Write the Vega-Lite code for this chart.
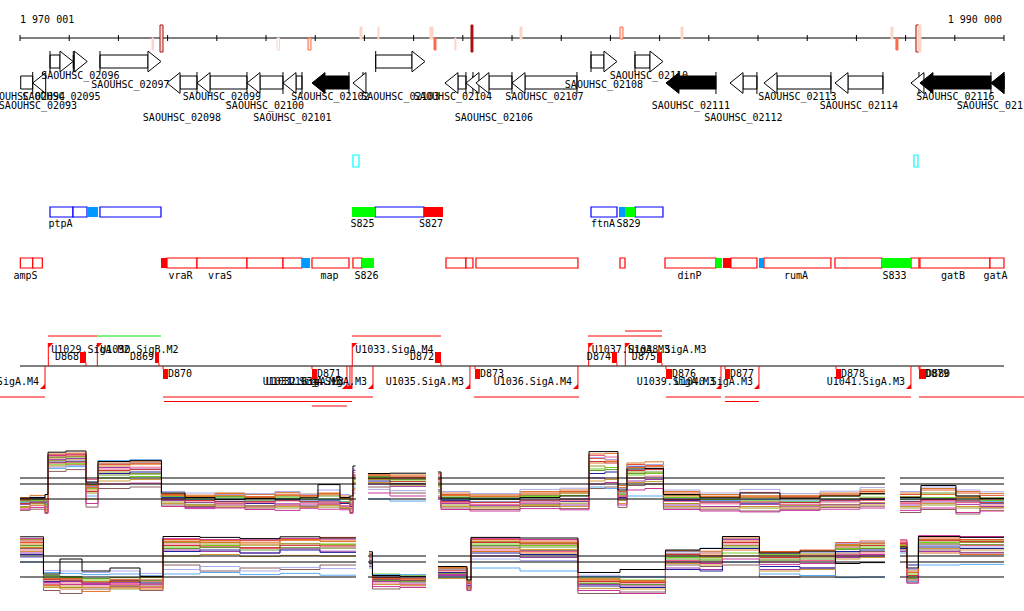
{
  "$schema": "https://vega.github.io/schema/vega-lite/v6.json",
  "padding": 0,
  "spacing": 0,
  "background": "white",
  "config": {"view": {"stroke": null}, "text": {"font": "DejaVu Sans Mono", "fontSize": 10, "color": "black"}, "concat": {"spacing": 0}},
  "resolve": {"scale": {"color": "independent", "fill": "independent", "stroke": "independent", "shape": "independent"}},
  "datasets": {
    "ruler": [{"s": 1970001, "e": 1990000}],
    "ticks": [{"p":1970001},{"p":1971001},{"p":1972001},{"p":1973001},{"p":1974001},{"p":1975001},{"p":1976001},{"p":1977001},{"p":1978001},{"p":1979001},{"p":1980001},{"p":1981001},{"p":1982001},{"p":1983001},{"p":1984001},{"p":1985001},{"p":1986001},{"p":1987001},{"p":1988001},{"p":1989001},{"p":1990000}],
    "rl": [{"p": 1970001, "t": "1 970 001", "side": "l"}, {"p": 1990000, "t": "1 990 000", "side": "r"}],
    "peaks": [
      {"s":1972683,"e":1972714,"st":"-","c":"lt"},
      {"s":1972846,"e":1972907,"st":"b","c":"dko"},
      {"s":1975224,"e":1975275,"st":"-","c":"lto"},
      {"s":1975854,"e":1975915,"st":"-","c":"oro"},
      {"s":1976911,"e":1976951,"st":"+","c":"lt"},
      {"s":1977277,"e":1977297,"st":"+","c":"lt"},
      {"s":1978333,"e":1978394,"st":"+","c":"lt"},
      {"s":1978415,"e":1978455,"st":"-","c":"or"},
      {"s":1978841,"e":1978862,"st":"-","c":"lt"},
      {"s":1979167,"e":1979207,"st":"b","c":"dk"},
      {"s":1980163,"e":1980203,"st":"+","c":"lt"},
      {"s":1982195,"e":1982256,"st":"+","c":"oro"},
      {"s":1983435,"e":1983475,"st":"+","c":"lt"},
      {"s":1987703,"e":1987743,"st":"+","c":"lt"},
      {"s":1987804,"e":1987845,"st":"-","c":"or"},
      {"s":1988211,"e":1988272,"st":"b","c":"dko"},
      {"s":1988262,"e":1988312,"st":"b","c":"lt"}
    ],
    "genes": [
      {"id":"SAOUHSC_02093","s":1970015,"e":1970259,"st":"-","k":"std","lv":3,"mid":1970366,"h":0},
      {"id":"SAOUHSC_02094","s":1970259,"e":1970462,"st":"-","k":"std","lv":2,"mid":1970122,"h":1},
      {"id":"SAOUHSC_02095","s":1970610,"e":1971078,"st":"+","k":"std","lv":2,"mid":1970844,"h":1},
      {"id":"SAOUHSC_02096","s":1971084,"e":1971368,"st":"+","k":"std","lv":0,"mid":1971226,"h":1},
      {"id":"SAOUHSC_02097","s":1971626,"e":1972866,"st":"+","k":"std","lv":1,"mid":1972246,"h":1},
      {"id":"SAOUHSC_02098","s":1972988,"e":1973598,"st":"-","k":"std","lv":4,"mid":1973293,"h":1},
      {"id":"SAOUHSC_02099","s":1973598,"e":1974614,"st":"-","k":"std","lv":2,"mid":1974106,"h":1},
      {"id":"SAOUHSC_02100","s":1974614,"e":1975346,"st":"-","k":"std","lv":3,"mid":1974980,"h":1},
      {"id":"SAOUHSC_02101","s":1975346,"e":1975732,"st":"-","k":"std","lv":4,"mid":1975539,"h":1},
      {"id":"SAOUHSC_02102","s":1975935,"e":1976687,"st":"-","k":"hl","lv":2,"mid":1976311,"h":1},
      {"id":"SAOUHSC_02102A","s":1976768,"e":1976972,"st":"-","k":"std","lv":-1,"mid":1976870,"h":1},
      {"id":"SAOUHSC_02103","s":1977230,"e":1978232,"st":"+","k":"std","lv":2,"mid":1977732,"h":1},
      {"id":"SAOUHSC_02104","s":1978638,"e":1979065,"st":"-","k":"std","lv":2,"mid":1978801,"h":1},
      {"id":"SAOUHSC_02105","s":1979065,"e":1979207,"st":"-","k":"std","lv":-1,"mid":1979136,"h":1},
      {"id":"SAOUHSC_02106","s":1979268,"e":1980000,"st":"-","k":"std","lv":4,"mid":1979634,"h":1},
      {"id":"SAOUHSC_02107","s":1980000,"e":1981321,"st":"-","k":"std","lv":2,"mid":1980660,"h":1},
      {"id":"SAOUHSC_02108","s":1981606,"e":1982134,"st":"+","k":"std","lv":1,"mid":1981870,"h":1},
      {"id":"SAOUHSC_02110","s":1982500,"e":1983069,"st":"+","k":"std","lv":0,"mid":1982784,"h":1},
      {"id":"SAOUHSC_02111","s":1983130,"e":1984146,"st":"-","k":"hl","lv":3,"mid":1983638,"h":1},
      {"id":"SAOUHSC_02112","s":1984431,"e":1984979,"st":"-","k":"std","lv":4,"mid":1984705,"h":1},
      {"id":"SAOUHSC_02113","s":1985122,"e":1986483,"st":"-","k":"std","lv":2,"mid":1985802,"h":1},
      {"id":"SAOUHSC_02114","s":1986565,"e":1987540,"st":"-","k":"std","lv":3,"mid":1987052,"h":1},
      {"id":"SAOUHSC_02115","s":1988109,"e":1988272,"st":"-","k":"std","lv":-1,"mid":1988190,"h":1},
      {"id":"SAOUHSC_02116","s":1988292,"e":1989735,"st":"-","k":"hl","lv":2,"mid":1989014,"h":1},
      {"id":"SAOUHSC_02117","s":1989735,"e":1990000,"st":"-","k":"hl","lv":3,"mid":1989837,"h":1}
    ],
    "feat": [
      {"s":1970610,"e":1971078,"tr":"b","k":"o"},
      {"s":1971078,"e":1971362,"tr":"b","k":"o"},
      {"s":1971383,"e":1971586,"tr":"b","k":"c"},
      {"s":1971626,"e":1972866,"tr":"b","k":"o"},
      {"s":1976748,"e":1977216,"tr":"b","k":"g"},
      {"s":1977216,"e":1978211,"tr":"b","k":"o"},
      {"s":1978211,"e":1978598,"tr":"b","k":"r"},
      {"s":1981606,"e":1982134,"tr":"b","k":"o"},
      {"s":1982175,"e":1982297,"tr":"b","k":"c"},
      {"s":1982297,"e":1982500,"tr":"b","k":"g"},
      {"s":1982500,"e":1983069,"tr":"b","k":"o"},
      {"s":1970007,"e":1970259,"tr":"r","k":"o"},
      {"s":1970259,"e":1970454,"tr":"r","k":"o"},
      {"s":1972866,"e":1972988,"tr":"r","k":"r"},
      {"s":1972988,"e":1973598,"tr":"r","k":"o"},
      {"s":1973598,"e":1974614,"tr":"r","k":"o"},
      {"s":1974614,"e":1975346,"tr":"r","k":"o"},
      {"s":1975346,"e":1975732,"tr":"r","k":"o"},
      {"s":1975732,"e":1975894,"tr":"r","k":"c"},
      {"s":1975935,"e":1976687,"tr":"r","k":"o"},
      {"s":1976768,"e":1976951,"tr":"r","k":"o"},
      {"s":1976951,"e":1977195,"tr":"r","k":"g"},
      {"s":1978659,"e":1979065,"tr":"r","k":"o"},
      {"s":1979065,"e":1979207,"tr":"r","k":"o"},
      {"s":1979268,"e":1981341,"tr":"r","k":"o"},
      {"s":1982195,"e":1982297,"tr":"r","k":"o"},
      {"s":1983110,"e":1984146,"tr":"r","k":"o"},
      {"s":1984146,"e":1984268,"tr":"r","k":"g"},
      {"s":1984288,"e":1984451,"tr":"r","k":"r"},
      {"s":1984451,"e":1984979,"tr":"r","k":"o"},
      {"s":1985020,"e":1985122,"tr":"r","k":"c"},
      {"s":1985122,"e":1986483,"tr":"r","k":"o"},
      {"s":1986565,"e":1987520,"tr":"r","k":"o"},
      {"s":1987520,"e":1988109,"tr":"r","k":"g"},
      {"s":1988109,"e":1988272,"tr":"r","k":"o"},
      {"s":1988292,"e":1989715,"tr":"r","k":"o"},
      {"s":1989715,"e":1990000,"tr":"r","k":"o"},
      {"s":1976768,"e":1976890,"tr":"c","k":"o"},
      {"s":1988170,"e":1988251,"tr":"c","k":"o"}
    ],
    "flab": [
      {"x":1970824,"t":"ptpA","tr":"b"},{"x":1976962,"t":"S825","tr":"b"},{"x":1978354,"t":"S827","tr":"b"},{"x":1981849,"t":"ftnA","tr":"b"},{"x":1982368,"t":"S829","tr":"b"},
      {"x":1970112,"t":"ampS","tr":"r"},{"x":1973263,"t":"vraR","tr":"r"},{"x":1974065,"t":"vraS","tr":"r"},{"x":1976291,"t":"map","tr":"r"},{"x":1977043,"t":"S826","tr":"r"},{"x":1983607,"t":"dinP","tr":"r"},{"x":1985772,"t":"rumA","tr":"r"},{"x":1987774,"t":"S833","tr":"r"},{"x":1988963,"t":"gatB","tr":"r"},{"x":1989827,"t":"gatA","tr":"r"}
    ],
    "tus": [
      {"s":1970570,"e":1971565,"st":"+","lv":0,"sg":"A"},
      {"s":1971565,"e":1972866,"st":"+","lv":0,"sg":"B"},
      {"s":1976748,"e":1978557,"st":"+","lv":0,"sg":"A"},
      {"s":1981545,"e":1983049,"st":"+","lv":0,"sg":"A"},
      {"s":1982297,"e":1983049,"st":"+","lv":1,"sg":"A"},
      {"s":1969594,"e":1970509,"st":"-","lv":0,"sg":"A"},
      {"s":1972907,"e":1977175,"st":"-","lv":0,"sg":"A"},
      {"s":1972927,"e":1976748,"st":"-","lv":1,"sg":"A"},
      {"s":1975935,"e":1976646,"st":"-","lv":2,"sg":"A"},
      {"s":1979228,"e":1981362,"st":"-","lv":0,"sg":"A"},
      {"s":1983130,"e":1984248,"st":"-","lv":0,"sg":"A"},
      {"s":1984329,"e":1988109,"st":"-","lv":0,"sg":"A"},
      {"s":1984329,"e":1985020,"st":"-","lv":1,"sg":"A"},
      {"s":1988272,"e":1990406,"st":"-","lv":0,"sg":"A"}
    ],
    "flags": [
      {"x":1970576,"st":"+","t":"U1029.SigA.M2"},
      {"x":1971572,"st":"+","t":"U1030.SigB.M2"},
      {"x":1976754,"st":"+","t":"U1033.SigA.M4"},
      {"x":1981559,"st":"+","t":"U1037.SigA.M3"},
      {"x":1982303,"st":"+","t":"U1038.SigA.M3"},
      {"x":1970509,"st":"-","t":"U1028.SigA.M4"},
      {"x":1976646,"st":"-","t":"U1031.SigA.M3"},
      {"x":1976707,"st":"-","t":"U1032.SigA.M3"},
      {"x":1976748,"st":"-","t":""},
      {"x":1977175,"st":"-","t":"U1034.SigA.M3"},
      {"x":1979146,"st":"-","t":"U1035.SigA.M3"},
      {"x":1981341,"st":"-","t":"U1036.SigA.M4"},
      {"x":1984248,"st":"-","t":"U1039.SigA.M3"},
      {"x":1985020,"st":"-","t":"U1040.SigA.M3"},
      {"x":1988109,"st":"-","t":"U1041.SigA.M3"}
    ],
    "terms": [
      {"x1":1971220,"x2":1971342,"st":"+","t":"D868"},
      {"x1":1972744,"x2":1972826,"st":"+","t":"D869"},
      {"x1":1978435,"x2":1978557,"st":"+","t":"D872"},
      {"x1":1982032,"x2":1982134,"st":"+","t":"D874"},
      {"x1":1982947,"x2":1983049,"st":"+","t":"D875"},
      {"x1":1972907,"x2":1973008,"st":"-","t":"D870"},
      {"x1":1975935,"x2":1976037,"st":"-","t":"D871"},
      {"x1":1979248,"x2":1979350,"st":"-","t":"D873"},
      {"x1":1983130,"x2":1983252,"st":"-","t":"D876"},
      {"x1":1984329,"x2":1984431,"st":"-","t":"D877"},
      {"x1":1986585,"x2":1986687,"st":"-","t":"D878"},
      {"x1":1988272,"x2":1988394,"st":"-","t":"D879"},
      {"x1":1988292,"x2":1988414,"st":"-","t":"D880"}
    ],
    "segs": [{"a":1970001,"b":1976829},{"a":1977073,"b":1978252},{"a":1978496,"b":1987581},{"a":1987886,"b":1990000}],
    "et": [
      {"sg":1,"x":1970001,"a":4.3,"b":3.5,"c":1.5,"d":0.2,"e":3.0,"f":2.2,"g":3.8,"h":2.8,"i":1.0,"j":4.5,"k":2.5,"l":3.3,"m":1.2,"n":4.0,"o":0.6,"p":3.9},
      {"sg":1,"x":1970204,"a":4.5,"b":4.0,"c":2.5,"d":0.6,"e":3.5,"f":2.8,"g":4.1,"h":3.2,"i":1.8,"j":5.2,"k":3.0,"l":3.8,"m":2.0,"n":4.6,"o":1.2,"p":4.4},
      {"sg":1,"x":1970509,"a":5.5,"b":3.0,"c":0.5,"d":-0.5,"e":2.0,"f":1.5,"g":3.0,"h":2.5,"i":0.0,"j":4.0,"k":1.0,"l":2.2,"m":0.2,"n":3.5,"o":-0.8,"p":3.4},
      {"sg":1,"x":1970570,"a":19.6,"b":18.3,"c":16.8,"d":13.2,"e":15.4,"f":17.2,"g":16.3,"h":14.2,"i":18.8,"j":17.7,"k":16.0,"l":17.9,"m":15.0,"n":14.6,"o":18.5,"p":19.0},
      {"sg":1,"x":1970935,"a":20.0,"b":18.6,"c":17.3,"d":13.8,"e":15.9,"f":17.5,"g":16.6,"h":14.8,"i":19.0,"j":18.2,"k":16.3,"l":18.0,"m":15.5,"n":15.2,"o":18.9,"p":19.3},
      {"sg":1,"x":1971342,"a":9.6,"b":8.5,"c":6.0,"d":1.3,"e":7.5,"f":9.0,"g":8.0,"h":5.0,"i":10.5,"j":7.0,"k":6.5,"l":8.8,"m":4.0,"n":9.8,"o":2.5,"p":7.8},
      {"sg":1,"x":1971586,"a":16.5,"b":15.5,"c":13.0,"d":7.5,"e":11.0,"f":14.5,"g":12.5,"h":16.8,"i":14.0,"j":15.0,"k":13.5,"l":12.0,"m":10.0,"n":15.8,"o":9.0,"p":16.0},
      {"sg":1,"x":1972236,"a":16.8,"b":15.8,"c":12.5,"d":8.0,"e":11.5,"f":14.0,"g":13.0,"h":17.1,"i":14.6,"j":15.6,"k":13.8,"l":12.3,"m":10.5,"n":16.2,"o":9.3,"p":16.4},
      {"sg":1,"x":1972876,"a":6.0,"b":5.5,"c":3.0,"d":2.0,"e":4.8,"f":3.5,"g":4.5,"h":4.2,"i":3.8,"j":5.8,"k":4.0,"l":5.0,"m":2.5,"n":6.5,"o":1.5,"p":5.2},
      {"sg":1,"x":1973354,"a":4.5,"b":5.0,"c":2.2,"d":1.5,"e":4.0,"f":1.2,"g":2.8,"h":3.7,"i":3.0,"j":5.3,"k":3.5,"l":4.4,"m":1.8,"n":6.0,"o":0.8,"p":4.8},
      {"sg":1,"x":1973964,"a":3.8,"b":5.8,"c":1.2,"d":2.5,"e":4.4,"f":2.0,"g":3.2,"h":4.0,"i":2.4,"j":6.0,"k":3.0,"l":4.8,"m":1.6,"n":5.5,"o":1.0,"p":5.2},
      {"sg":1,"x":1974573,"a":4.2,"b":4.8,"c":1.8,"d":1.0,"e":3.6,"f":1.6,"g":2.5,"h":3.3,"i":2.8,"j":5.5,"k":3.2,"l":4.2,"m":1.3,"n":5.8,"o":0.5,"p":4.5},
      {"sg":1,"x":1975183,"a":4.0,"b":5.6,"c":1.0,"d":2.0,"e":4.6,"f":2.4,"g":3.6,"h":3.9,"i":2.0,"j":6.2,"k":3.4,"l":5.0,"m":1.5,"n":6.5,"o":0.2,"p":5.2},
      {"sg":1,"x":1975691,"a":4.4,"b":5.2,"c":1.6,"d":1.4,"e":3.8,"f":2.0,"g":3.0,"h":3.6,"i":2.6,"j":5.6,"k":3.2,"l":4.6,"m":1.2,"n":5.6,"o":0.9,"p":4.9},
      {"sg":1,"x":1976057,"a":8.8,"b":5.8,"c":1.3,"d":2.2,"e":4.0,"f":2.6,"g":3.4,"h":3.8,"i":2.3,"j":6.0,"k":3.0,"l":5.0,"m":1.8,"n":7.0,"o":0.6,"p":5.4},
      {"sg":1,"x":1976504,"a":4.5,"b":4.4,"c":0.8,"d":1.0,"e":3.2,"f":1.6,"g":2.5,"h":3.0,"i":1.8,"j":5.0,"k":2.8,"l":4.0,"m":1.2,"n":5.5,"o":0.4,"p":4.2},
      {"sg":1,"x":1976707,"a":5.0,"b":3.5,"c":0.0,"d":-0.5,"e":2.5,"f":0.8,"g":1.5,"h":2.2,"i":1.0,"j":4.2,"k":2.0,"l":3.0,"m":0.5,"n":4.5,"o":-0.8,"p":3.8},
      {"sg":1,"x":1976768,"a":15.0,"b":12.0,"c":9.0,"d":6.0,"e":10.0,"f":13.5,"g":11.0,"h":8.0,"i":12.8,"j":9.5,"k":12.0,"l":10.5,"m":7.5,"n":14.0,"o":7.0,"p":11.5},
      {"sg":1,"x":1976819,"a":15.0,"b":12.0,"c":9.0,"d":6.0,"e":10.0,"f":13.5,"g":11.0,"h":8.0,"i":12.8,"j":9.5,"k":12.0,"l":10.5,"m":7.5,"n":14.0,"o":7.0,"p":11.5},
      {"sg":2,"x":1977073,"a":12.5,"b":12.0,"c":10.5,"d":8.0,"e":11.2,"f":9.0,"g":10.0,"h":4.0,"i":11.7,"j":12.3,"k":10.8,"l":11.5,"m":9.5,"n":7.2,"o":6.0,"p":12.0},
      {"sg":2,"x":1977520,"a":12.6,"b":11.6,"c":9.2,"d":6.0,"e":10.0,"f":8.2,"g":9.0,"h":3.3,"i":10.8,"j":12.0,"k":9.8,"l":10.5,"m":8.6,"n":6.8,"o":5.0,"p":11.2},
      {"sg":2,"x":1978252,"a":12.6,"b":11.6,"c":9.2,"d":6.0,"e":10.0,"f":8.2,"g":9.0,"h":3.3,"i":10.8,"j":12.0,"k":9.8,"l":10.5,"m":8.6,"n":6.8,"o":5.0,"p":11.2},
      {"sg":3,"x":1978496,"a":13.0,"b":11.0,"c":8.0,"d":5.0,"e":9.0,"f":10.0,"g":7.0,"h":6.0,"i":12.0,"j":9.5,"k":10.5,"l":8.5,"m":6.5,"n":11.5,"o":4.5,"p":12.5},
      {"sg":3,"x":1978557,"a":4.3,"b":5.5,"c":2.0,"d":1.0,"e":4.5,"f":2.5,"g":3.5,"h":3.8,"i":2.8,"j":6.0,"k":3.2,"l":5.0,"m":1.5,"n":6.5,"o":0.5,"p":5.2},
      {"sg":3,"x":1979146,"a":4.0,"b":5.0,"c":1.4,"d":0.5,"e":3.8,"f":1.8,"g":3.0,"h":4.2,"i":2.2,"j":5.4,"k":2.8,"l":4.6,"m":1.0,"n":5.8,"o":0.0,"p":4.8},
      {"sg":3,"x":1980163,"a":4.5,"b":6.0,"c":2.2,"d":1.5,"e":4.8,"f":2.6,"g":3.4,"h":3.6,"i":3.0,"j":6.5,"k":3.6,"l":5.2,"m":1.8,"n":7.2,"o":0.8,"p":5.6},
      {"sg":3,"x":1980975,"a":5.0,"b":6.5,"c":2.6,"d":0.8,"e":5.2,"f":2.0,"g":3.2,"h":4.0,"i":3.4,"j":7.0,"k":4.0,"l":6.0,"m":1.5,"n":7.6,"o":0.4,"p":6.0},
      {"sg":3,"x":1981565,"a":19.8,"b":17.5,"c":15.0,"d":7.5,"e":14.0,"f":11.0,"g":12.5,"h":8.0,"i":18.5,"j":16.0,"k":16.5,"l":13.5,"m":10.0,"n":17.8,"o":9.0,"p":19.0},
      {"sg":3,"x":1981890,"a":19.8,"b":17.0,"c":14.5,"d":8.0,"e":14.5,"f":10.5,"g":13.0,"h":7.5,"i":18.0,"j":16.5,"k":16.0,"l":13.8,"m":10.5,"n":17.2,"o":9.5,"p":19.2},
      {"sg":3,"x":1982154,"a":7.0,"b":6.5,"c":3.5,"d":1.2,"e":5.5,"f":4.0,"g":4.5,"h":6.0,"i":5.0,"j":8.5,"k":5.0,"l":6.0,"m":2.5,"n":7.5,"o":2.0,"p":7.8},
      {"sg":3,"x":1982337,"a":14.0,"b":15.5,"c":13.0,"d":8.5,"e":12.0,"f":10.0,"g":14.8,"h":5.0,"i":11.0,"j":16.0,"k":13.5,"l":12.5,"m":9.5,"n":15.0,"o":7.0,"p":14.5},
      {"sg":3,"x":1982703,"a":14.2,"b":15.2,"c":12.5,"d":9.0,"e":12.6,"f":10.5,"g":14.2,"h":5.0,"i":11.6,"j":16.4,"k":13.8,"l":13.0,"m":9.8,"n":15.5,"o":7.5,"p":14.8},
      {"sg":3,"x":1983079,"a":5.5,"b":6.0,"c":2.5,"d":1.0,"e":4.5,"f":2.0,"g":3.5,"h":4.0,"i":3.2,"j":6.5,"k":3.8,"l":5.2,"m":1.5,"n":7.0,"o":0.5,"p":5.0},
      {"sg":3,"x":1983821,"a":4.4,"b":5.4,"c":1.5,"d":0.4,"e":3.8,"f":1.5,"g":3.0,"h":3.5,"i":2.4,"j":5.5,"k":3.0,"l":4.6,"m":1.0,"n":6.0,"o":0.0,"p":4.8},
      {"sg":3,"x":1984634,"a":6.0,"b":5.0,"c":1.0,"d":0.0,"e":3.4,"f":2.2,"g":2.6,"h":3.8,"i":6.2,"j":5.0,"k":3.0,"l":4.4,"m":1.5,"n":7.2,"o":-0.3,"p":4.6},
      {"sg":3,"x":1985447,"a":4.3,"b":4.8,"c":1.8,"d":0.6,"e":3.2,"f":1.4,"g":2.8,"h":3.4,"i":2.2,"j":5.2,"k":2.8,"l":4.2,"m":1.0,"n":5.8,"o":0.2,"p":4.4},
      {"sg":3,"x":1986260,"a":5.0,"b":5.6,"c":2.2,"d":1.2,"e":4.0,"f":2.0,"g":3.4,"h":3.8,"i":3.0,"j":6.0,"k":3.6,"l":5.0,"m":1.6,"n":6.6,"o":0.6,"p":5.2},
      {"sg":3,"x":1987073,"a":5.8,"b":6.5,"c":2.8,"d":1.6,"e":4.6,"f":2.5,"g":3.8,"h":4.2,"i":3.5,"j":7.0,"k":4.2,"l":5.6,"m":2.0,"n":7.8,"o":1.0,"p":6.0},
      {"sg":3,"x":1987581,"a":5.8,"b":6.5,"c":2.8,"d":1.6,"e":4.6,"f":2.5,"g":3.8,"h":4.2,"i":3.5,"j":7.0,"k":4.2,"l":5.6,"m":2.0,"n":7.8,"o":1.0,"p":6.0},
      {"sg":4,"x":1987886,"a":4.5,"b":5.5,"c":1.0,"d":-0.5,"e":3.8,"f":2.0,"g":3.2,"h":4.0,"i":2.5,"j":6.0,"k":3.0,"l":4.8,"m":1.5,"n":6.5,"o":0.2,"p":4.6},
      {"sg":4,"x":1988312,"a":8.5,"b":7.0,"c":2.0,"d":0.5,"e":4.5,"f":3.0,"g":3.8,"h":4.2,"i":3.5,"j":7.5,"k":4.0,"l":6.0,"m":2.5,"n":8.0,"o":1.0,"p":5.5},
      {"sg":4,"x":1989024,"a":5.0,"b":6.0,"c":1.0,"d":-1.0,"e":4.0,"f":2.2,"g":3.0,"h":3.6,"i":2.8,"j":6.5,"k":3.4,"l":5.0,"m":1.5,"n":7.0,"o":-0.5,"p":4.5},
      {"sg":4,"x":1989512,"a":4.2,"b":5.2,"c":0.2,"d":1.0,"e":3.5,"f":1.5,"g":2.6,"h":3.2,"i":2.0,"j":5.8,"k":2.8,"l":4.4,"m":1.2,"n":6.4,"o":0.0,"p":4.0},
      {"sg":4,"x":1990000,"a":4.2,"b":5.2,"c":0.2,"d":1.0,"e":3.5,"f":1.5,"g":2.6,"h":3.2,"i":2.0,"j":5.8,"k":2.8,"l":4.4,"m":1.2,"n":6.4,"o":0.0,"p":4.0}
    ],
    "eb": [
      {"sg":1,"x":1970001,"a":17.4,"b":15.5,"c":16.5,"d":13.5,"e":14.0,"f":12.0,"g":11.5,"h":9.0,"i":13.0,"j":15.0,"k":16.0,"l":14.5,"m":12.5,"n":10.5,"o":16.8,"p":13.8},
      {"sg":1,"x":1970478,"a":5.0,"b":3.0,"c":1.0,"d":-0.5,"e":4.0,"f":2.0,"g":2.5,"h":5.5,"i":1.5,"j":3.5,"k":3.2,"l":4.5,"m":0.5,"n":6.2,"o":2.2,"p":1.2},
      {"sg":1,"x":1970813,"a":10.0,"b":3.5,"c":0.5,"d":-1.5,"e":3.8,"f":2.5,"g":2.8,"h":5.2,"i":2.0,"j":3.0,"k":3.0,"l":4.2,"m":1.0,"n":6.0,"o":1.5,"p":0.0},
      {"sg":1,"x":1971261,"a":6.0,"b":2.5,"c":1.5,"d":0.0,"e":3.0,"f":1.5,"g":2.0,"h":4.8,"i":1.0,"j":2.5,"k":2.0,"l":3.5,"m":0.5,"n":5.5,"o":1.8,"p":-0.8},
      {"sg":1,"x":1971830,"a":7.0,"b":3.2,"c":0.0,"d":0.8,"e":2.5,"f":2.2,"g":2.8,"h":5.0,"i":1.8,"j":3.0,"k":2.6,"l":3.8,"m":1.2,"n":6.0,"o":1.4,"p":0.4},
      {"sg":1,"x":1972439,"a":4.2,"b":2.4,"c":1.6,"d":-0.5,"e":3.8,"f":1.0,"g":2.0,"h":4.4,"i":0.5,"j":4.0,"k":3.0,"l":2.8,"m":0.8,"n":5.2,"o":1.6,"p":0.0},
      {"sg":1,"x":1972907,"a":17.5,"b":16.5,"c":15.5,"d":8.0,"e":14.0,"f":13.0,"g":12.5,"h":5.0,"i":15.0,"j":16.0,"k":14.5,"l":13.5,"m":11.0,"n":6.5,"o":16.8,"p":15.8},
      {"sg":1,"x":1973659,"a":17.2,"b":16.0,"c":15.0,"d":6.0,"e":14.5,"f":12.5,"g":13.0,"h":5.5,"i":14.0,"j":15.5,"k":14.0,"l":13.8,"m":11.5,"n":7.5,"o":16.5,"p":16.2},
      {"sg":1,"x":1974472,"a":16.8,"b":16.2,"c":14.6,"d":7.0,"e":13.8,"f":12.0,"g":12.0,"h":4.8,"i":13.5,"j":15.0,"k":13.8,"l":13.0,"m":10.8,"n":6.0,"o":16.4,"p":15.6},
      {"sg":1,"x":1975285,"a":17.4,"b":16.8,"c":15.2,"d":6.5,"e":14.6,"f":13.4,"g":13.0,"h":5.2,"i":14.5,"j":16.2,"k":14.6,"l":13.8,"m":11.2,"n":7.2,"o":16.8,"p":16.5},
      {"sg":1,"x":1976098,"a":17.0,"b":17.2,"c":14.8,"d":8.0,"e":15.0,"f":12.6,"g":12.2,"h":4.6,"i":14.0,"j":15.8,"k":14.4,"l":13.6,"m":11.0,"n":6.8,"o":16.6,"p":16.0},
      {"sg":1,"x":1976829,"a":17.0,"b":17.2,"c":14.8,"d":8.0,"e":15.0,"f":12.6,"g":12.2,"h":4.6,"i":14.0,"j":15.8,"k":14.4,"l":13.6,"m":11.0,"n":6.8,"o":16.6,"p":16.0},
      {"sg":2,"x":1977094,"a":12.4,"b":10.0,"c":9.0,"d":8.0,"e":11.0,"f":9.5,"g":8.5,"h":7.0,"i":10.5,"j":9.8,"k":11.5,"l":9.0,"m":8.8,"n":10.0,"o":7.5,"p":11.8},
      {"sg":2,"x":1977165,"a":4.5,"b":3.5,"c":3.0,"d":0.0,"e":5.0,"f":2.5,"g":3.2,"h":4.8,"i":2.0,"j":4.0,"k":3.8,"l":2.8,"m":1.5,"n":4.2,"o":0.8,"p":3.3},
      {"sg":2,"x":1977724,"a":4.2,"b":3.0,"c":2.6,"d":0.5,"e":4.6,"f":2.0,"g":2.8,"h":4.8,"i":1.5,"j":3.6,"k":3.4,"l":2.4,"m":1.2,"n":4.0,"o":0.6,"p":3.0},
      {"sg":2,"x":1978252,"a":4.2,"b":3.0,"c":2.6,"d":0.5,"e":4.6,"f":2.0,"g":2.8,"h":4.8,"i":1.5,"j":3.6,"k":3.4,"l":2.4,"m":1.2,"n":4.0,"o":0.6,"p":3.0},
      {"sg":3,"x":1978496,"a":7.5,"b":6.8,"c":7.0,"d":5.0,"e":6.5,"f":4.5,"g":5.5,"h":4.0,"i":6.0,"j":7.2,"k":6.3,"l":5.2,"m":3.5,"n":6.6,"o":4.8,"p":7.0},
      {"sg":3,"x":1979085,"a":3.0,"b":1.5,"c":0.5,"d":-0.3,"e":2.0,"f":1.0,"g":1.2,"h":3.0,"i":0.8,"j":2.0,"k":1.8,"l":2.5,"m":0.2,"n":1.5,"o":-0.5,"p":2.2},
      {"sg":3,"x":1979167,"a":17.2,"b":16.5,"c":15.8,"d":14.0,"e":15.0,"f":11.0,"g":12.0,"h":7.0,"i":13.0,"j":16.0,"k":15.5,"l":14.5,"m":13.5,"n":10.0,"o":16.8,"p":12.5},
      {"sg":3,"x":1980163,"a":17.0,"b":16.0,"c":15.2,"d":12.8,"e":14.5,"f":10.5,"g":11.5,"h":6.0,"i":12.5,"j":15.5,"k":15.0,"l":14.0,"m":13.2,"n":9.5,"o":16.5,"p":12.0},
      {"sg":3,"x":1981341,"a":5.5,"b":3.0,"c":2.0,"d":-1.5,"e":3.6,"f":1.5,"g":1.0,"h":4.2,"i":2.5,"j":3.4,"k":2.5,"l":1.8,"m":0.2,"n":4.6,"o":-0.5,"p":3.0},
      {"sg":3,"x":1982195,"a":6.5,"b":2.4,"c":1.4,"d":-1.0,"e":3.0,"f":1.0,"g":0.5,"h":4.0,"i":2.0,"j":2.8,"k":2.2,"l":1.5,"m":0.0,"n":4.2,"o":-1.5,"p":2.6},
      {"sg":3,"x":1983120,"a":13.0,"b":12.5,"c":11.0,"d":8.0,"e":10.5,"f":7.0,"g":6.5,"h":12.6,"i":9.5,"j":11.8,"k":11.5,"l":10.0,"m":8.5,"n":12.0,"o":9.0,"p":12.8},
      {"sg":3,"x":1983821,"a":13.5,"b":12.0,"c":10.5,"d":7.5,"e":10.0,"f":6.5,"g":6.0,"h":13.6,"i":9.0,"j":11.3,"k":11.0,"l":9.6,"m":8.0,"n":12.4,"o":8.5,"p":12.6},
      {"sg":3,"x":1984278,"a":17.5,"b":16.0,"c":14.5,"d":8.0,"e":12.0,"f":16.5,"g":13.5,"h":9.0,"i":15.0,"j":13.0,"k":15.5,"l":14.0,"m":11.0,"n":16.8,"o":10.0,"p":17.0},
      {"sg":3,"x":1985030,"a":12.0,"b":12.5,"c":10.0,"d":4.0,"e":11.5,"f":6.5,"g":7.5,"h":5.0,"i":9.0,"j":11.0,"k":10.5,"l":9.6,"m":6.0,"n":11.8,"o":8.2,"p":12.2},
      {"sg":3,"x":1985853,"a":12.6,"b":13.0,"c":10.6,"d":4.5,"e":12.0,"f":7.0,"g":7.0,"h":4.5,"i":9.5,"j":11.6,"k":11.0,"l":10.0,"m":6.5,"n":12.2,"o":8.5,"p":12.8},
      {"sg":3,"x":1986575,"a":8.5,"b":15.5,"c":14.5,"d":12.0,"e":13.5,"f":10.5,"g":12.5,"h":3.8,"i":11.5,"j":15.0,"k":14.0,"l":13.2,"m":10.0,"n":15.2,"o":11.0,"p":14.8},
      {"sg":3,"x":1987073,"a":8.8,"b":16.0,"c":15.0,"d":12.5,"e":14.0,"f":11.0,"g":13.0,"h":4.0,"i":12.0,"j":15.5,"k":14.5,"l":13.5,"m":10.5,"n":15.6,"o":11.5,"p":15.2},
      {"sg":3,"x":1987581,"a":8.8,"b":16.0,"c":15.0,"d":12.5,"e":14.0,"f":11.0,"g":13.0,"h":4.0,"i":12.0,"j":15.5,"k":14.5,"l":13.5,"m":10.5,"n":15.6,"o":11.5,"p":15.2},
      {"sg":4,"x":1987886,"a":14.0,"b":16.0,"c":15.0,"d":13.0,"e":14.5,"f":12.5,"g":13.5,"h":12.0,"i":15.5,"j":14.8,"k":15.2,"l":14.0,"m":13.0,"n":12.8,"o":16.4,"p":14.2},
      {"sg":4,"x":1988028,"a":7.0,"b":6.0,"c":4.0,"d":2.0,"e":5.0,"f":3.0,"g":8.0,"h":2.5,"i":5.5,"j":6.5,"k":4.5,"l":3.5,"m":3.0,"n":6.5,"o":2.0,"p":5.5},
      {"sg":4,"x":1988262,"a":17.5,"b":17.0,"c":16.0,"d":13.0,"e":15.5,"f":12.5,"g":14.0,"h":8.0,"i":15.0,"j":16.5,"k":16.2,"l":15.0,"m":13.5,"n":14.5,"o":17.8,"p":12.0},
      {"sg":4,"x":1989105,"a":17.2,"b":16.5,"c":15.5,"d":12.2,"e":16.0,"f":12.0,"g":13.5,"h":8.2,"i":14.5,"j":16.0,"k":15.8,"l":14.8,"m":13.0,"n":14.0,"o":17.5,"p":11.5},
      {"sg":4,"x":1990000,"a":17.2,"b":16.5,"c":15.5,"d":12.2,"e":16.0,"f":12.0,"g":13.5,"h":8.2,"i":14.5,"j":16.0,"k":15.8,"l":14.8,"m":13.0,"n":14.0,"o":17.5,"p":11.5}
    ]
  },
  "vconcat": [
    {
      "width": 1024,
      "height": 445,
      "resolve": {"scale": {"color": "independent", "fill": "independent", "stroke": "independent", "shape": "independent"}},
      "layer": [
        {"data": {"name": "ruler"}, "mark": {"type": "rule", "color": "black", "strokeWidth": 1},
         "encoding": {"x": {"field": "s", "type": "quantitative", "scale": {"domain": [1969594, 1990407], "nice": false, "zero": false}, "axis": null}, "x2": {"field": "e"},
                      "y": {"datum": 38, "type": "quantitative", "scale": {"domain": [0, 445], "reverse": true, "nice": false, "zero": false}, "axis": null}}},
        {"data": {"name": "ticks"}, "mark": {"type": "rule", "color": "black", "strokeWidth": 1},
         "encoding": {"x": {"field": "p", "type": "quantitative", "scale": {"domain": [1969594, 1990407], "nice": false, "zero": false}, "axis": null},
                      "y": {"datum": 35, "type": "quantitative", "scale": {"domain": [0, 445], "reverse": true, "nice": false, "zero": false}, "axis": null}, "y2": {"datum": 41}}},
        {"data": {"name": "rl"}, "transform": [{"filter": "datum.side=='l'"}], "mark": {"type": "text", "align": "left", "baseline": "middle", "clip": true},
         "encoding": {"x": {"field": "p", "type": "quantitative", "scale": {"domain": [1969594, 1990407], "nice": false, "zero": false}, "axis": null},
                      "y": {"datum": 20, "type": "quantitative", "scale": {"domain": [0, 445], "reverse": true, "nice": false, "zero": false}, "axis": null}, "text": {"field": "t"}}},
        {"data": {"name": "rl"}, "transform": [{"filter": "datum.side=='r'"}], "mark": {"type": "text", "align": "right", "baseline": "middle", "dx": -2, "clip": true},
         "encoding": {"x": {"field": "p", "type": "quantitative", "scale": {"domain": [1969594, 1990407], "nice": false, "zero": false}, "axis": null},
                      "y": {"datum": 20, "type": "quantitative", "scale": {"domain": [0, 445], "reverse": true, "nice": false, "zero": false}, "axis": null}, "text": {"field": "t"}}},
        {"data": {"name": "peaks"},
         "transform": [{"calculate": "datum.st=='+' ? 27 : (datum.st=='-' ? 38 : 25)", "as": "d1"}, {"calculate": "datum.st=='+' ? 39 : (datum.st=='-' ? 50 : 52)", "as": "d2"}],
         "mark": {"type": "rect", "strokeWidth": 1},
         "encoding": {"x": {"field": "s", "type": "quantitative", "scale": {"domain": [1969594, 1990407], "nice": false, "zero": false}, "axis": null}, "x2": {"field": "e"},
                      "y": {"field": "d1", "type": "quantitative", "scale": {"domain": [0, 445], "reverse": true, "nice": false, "zero": false}, "axis": null}, "y2": {"field": "d2"},
                      "fill": {"field": "c", "type": "nominal", "scale": {"domain": ["lt", "lto", "or", "oro", "dk", "dko"], "range": ["#fcd5c4", "#ffffff", "#fb6a4a", "#fee5d9", "#a50f15", "#fde0d5"]}, "legend": null},
                      "stroke": {"field": "c", "type": "nominal", "scale": {"domain": ["lt", "lto", "or", "oro", "dk", "dko"], "range": ["#fcd5c4", "#fcd5c4", "#fb6a4a", "#fb6a4a", "#a50f15", "#a50f15"]}, "legend": null}}},
        {"data": {"name": "genes"},
         "transform": [
           {"calculate": "datum.st=='+' ? datum.s : (datum.h==1 ? min(datum.e, datum.s+264) : datum.s)", "as": "b1"},
           {"calculate": "datum.st=='+' ? max(datum.s, datum.e-264) : datum.e", "as": "b2"},
           {"calculate": "datum.st=='+' ? datum.s : datum.e", "as": "tail"},
           {"calculate": "datum.st=='+' ? datum.e : datum.s", "as": "tip"},
           {"calculate": "datum.st=='+' ? 55 : 76", "as": "y1"},
           {"calculate": "datum.st=='+' ? 68 : 89", "as": "y2"},
           {"calculate": "datum.st=='+' ? 51 : 72", "as": "f1"},
           {"calculate": "datum.st=='+' ? 72 : 94", "as": "f2"},
           {"calculate": "datum.st=='+' ? 61.5 : 83", "as": "yc"},
           {"calculate": "datum.lv==0 ? 76 : (datum.lv==1 ? 85 : (datum.lv==2 ? 97 : (datum.lv==3 ? 106 : 118)))", "as": "ly"}
         ],
         "layer": [
           {"mark": {"type": "rect", "stroke": "black", "strokeWidth": 1},
            "encoding": {"x": {"field": "b1", "type": "quantitative", "scale": {"domain": [1969594, 1990407], "nice": false, "zero": false}, "axis": null}, "x2": {"field": "b2"},
                         "y": {"field": "y1", "type": "quantitative", "scale": {"domain": [0, 445], "reverse": true, "nice": false, "zero": false}, "axis": null}, "y2": {"field": "y2"},
                         "fill": {"field": "k", "type": "nominal", "scale": {"domain": ["std", "hl"], "range": ["#ffffff", "#000000"]}, "legend": null}}},
           {"mark": {"type": "rule", "color": "black", "strokeWidth": 1},
            "encoding": {"x": {"field": "tail", "type": "quantitative", "scale": {"domain": [1969594, 1990407], "nice": false, "zero": false}, "axis": null},
                         "y": {"field": "f1", "type": "quantitative", "scale": {"domain": [0, 445], "reverse": true, "nice": false, "zero": false}, "axis": null}, "y2": {"field": "f2"}}},
           {"transform": [{"filter": "datum.h==1"}],
            "mark": {"type": "point", "filled": true, "stroke": "black", "strokeWidth": 1, "size": 169, "opacity": 1},
            "encoding": {"x": {"field": "tip", "type": "quantitative", "scale": {"domain": [1969594, 1990407], "nice": false, "zero": false}, "axis": null},
                         "y": {"field": "yc", "type": "quantitative", "scale": {"domain": [0, 445], "reverse": true, "nice": false, "zero": false}, "axis": null},
                         "shape": {"field": "st", "type": "nominal", "scale": {"domain": ["+", "-"], "range": ["M -2 -1.6 L 0 0 L -2 1.6 Z", "M 2 -1.6 L 0 0 L 2 1.6 Z"]}, "legend": null},
                         "fill": {"field": "k", "type": "nominal", "scale": {"domain": ["std", "hl"], "range": ["#ffffff", "#000000"]}, "legend": null}}},
           {"transform": [{"filter": "datum.lv>=0"}],
            "mark": {"type": "text", "align": "center", "baseline": "middle", "clip": true},
            "encoding": {"x": {"field": "mid", "type": "quantitative", "scale": {"domain": [1969594, 1990407], "nice": false, "zero": false}, "axis": null},
                         "y": {"field": "ly", "type": "quantitative", "scale": {"domain": [0, 445], "reverse": true, "nice": false, "zero": false}, "axis": null},
                         "text": {"field": "id"}}}
         ]},
        {"data": {"name": "feat"},
         "transform": [{"calculate": "datum.tr=='b' ? 207 : (datum.tr=='r' ? 258 : 155)", "as": "d1"}, {"calculate": "datum.tr=='b' ? 217 : (datum.tr=='r' ? 268 : 167)", "as": "d2"}],
         "resolve": {"scale": {"fill": "independent", "stroke": "independent"}},
         "layer": [
           {"transform": [{"filter": "datum.k=='o'"}],
            "mark": {"type": "rect", "fill": "#ffffff", "strokeWidth": 1.2},
            "encoding": {"x": {"field": "s", "type": "quantitative", "scale": {"domain": [1969594, 1990407], "nice": false, "zero": false}, "axis": null}, "x2": {"field": "e"},
                         "y": {"field": "d1", "type": "quantitative", "scale": {"domain": [0, 445], "reverse": true, "nice": false, "zero": false}, "axis": null}, "y2": {"field": "d2"},
                         "stroke": {"field": "tr", "type": "nominal", "scale": {"domain": ["b", "r", "c"], "range": ["#0000ff", "#ff0000", "#00ffff"]}, "legend": null}}},
           {"transform": [{"filter": "datum.k!='o'"}],
            "mark": {"type": "rect", "strokeWidth": 0},
            "encoding": {"x": {"field": "s", "type": "quantitative", "scale": {"domain": [1969594, 1990407], "nice": false, "zero": false}, "axis": null}, "x2": {"field": "e"},
                         "y": {"field": "d1", "type": "quantitative", "scale": {"domain": [0, 445], "reverse": true, "nice": false, "zero": false}, "axis": null}, "y2": {"field": "d2"},
                         "fill": {"field": "k", "type": "nominal", "scale": {"domain": ["g", "c", "r"], "range": ["#00ff00", "#0099ff", "#ff0000"]}, "legend": null}}}
         ]},
        {"data": {"name": "flab"},
         "transform": [{"calculate": "datum.tr=='b' ? 224 : 276", "as": "d"}],
         "mark": {"type": "text", "align": "center", "baseline": "middle", "clip": true},
         "encoding": {"x": {"field": "x", "type": "quantitative", "scale": {"domain": [1969594, 1990407], "nice": false, "zero": false}, "axis": null},
                      "y": {"field": "d", "type": "quantitative", "scale": {"domain": [0, 445], "reverse": true, "nice": false, "zero": false}, "axis": null},
                      "text": {"field": "t"}}},
        {"data": {"name": "ruler"}, "mark": {"type": "rule", "color": "black", "strokeWidth": 1},
         "encoding": {"x": {"field": "s", "type": "quantitative", "scale": {"domain": [1969594, 1990407], "nice": false, "zero": false}, "axis": null}, "x2": {"field": "e"},
                      "y": {"datum": 366, "type": "quantitative", "scale": {"domain": [0, 445], "reverse": true, "nice": false, "zero": false}, "axis": null}}},
        {"data": {"name": "tus"},
         "transform": [{"calculate": "datum.st=='+' ? 336 - 5*datum.lv : 397 + 4.5*datum.lv", "as": "d"}],
         "mark": {"type": "rule", "strokeWidth": 1, "clip": true},
         "encoding": {"x": {"field": "s", "type": "quantitative", "scale": {"domain": [1969594, 1990407], "nice": false, "zero": false}, "axis": null}, "x2": {"field": "e"},
                      "y": {"field": "d", "type": "quantitative", "scale": {"domain": [0, 445], "reverse": true, "nice": false, "zero": false}, "axis": null},
                      "color": {"field": "sg", "type": "nominal", "scale": {"domain": ["A", "B"], "range": ["#ff0000", "#00e000"]}, "legend": null}}},
        {"data": {"name": "flags"},
         "transform": [{"calculate": "datum.st=='+' ? 343 : 389", "as": "fy"}],
         "layer": [
           {"mark": {"type": "rule", "color": "#ff0000", "strokeWidth": 1},
            "encoding": {"x": {"field": "x", "type": "quantitative", "scale": {"domain": [1969594, 1990407], "nice": false, "zero": false}, "axis": null},
                         "y": {"field": "fy", "type": "quantitative", "scale": {"domain": [0, 445], "reverse": true, "nice": false, "zero": false}, "axis": null}, "y2": {"datum": 366}}},
           {"mark": {"type": "point", "filled": true, "color": "#ff0000", "size": 25, "opacity": 1, "strokeWidth": 0},
            "encoding": {"x": {"field": "x", "type": "quantitative", "scale": {"domain": [1969594, 1990407], "nice": false, "zero": false}, "axis": null},
                         "y": {"field": "fy", "type": "quantitative", "scale": {"domain": [0, 445], "reverse": true, "nice": false, "zero": false}, "axis": null},
                         "shape": {"field": "st", "type": "nominal", "scale": {"domain": ["+", "-"], "range": ["M 0 0 L 2 0 L 0 2 Z", "M 0 0 L -2 0 L 0 -2 Z"]}, "legend": null}}},
           {"transform": [{"filter": "datum.st=='+'"}],
            "mark": {"type": "text", "align": "left", "baseline": "middle", "dx": 3, "clip": true},
            "encoding": {"x": {"field": "x", "type": "quantitative", "scale": {"domain": [1969594, 1990407], "nice": false, "zero": false}, "axis": null},
                         "y": {"datum": 350, "type": "quantitative", "scale": {"domain": [0, 445], "reverse": true, "nice": false, "zero": false}, "axis": null},
                         "text": {"field": "t"}}},
           {"transform": [{"filter": "datum.st=='-' && datum.t!=''"}],
            "mark": {"type": "text", "align": "right", "baseline": "middle", "dx": -6, "clip": true},
            "encoding": {"x": {"field": "x", "type": "quantitative", "scale": {"domain": [1969594, 1990407], "nice": false, "zero": false}, "axis": null},
                         "y": {"datum": 382, "type": "quantitative", "scale": {"domain": [0, 445], "reverse": true, "nice": false, "zero": false}, "axis": null},
                         "text": {"field": "t"}}}
         ]},
        {"data": {"name": "terms"},
         "transform": [
           {"calculate": "datum.st=='+' ? 352 : 369", "as": "t1"},
           {"calculate": "datum.st=='+' ? 363 : 379", "as": "t2"},
           {"calculate": "datum.st=='+' ? datum.x2 : datum.x1", "as": "cx"},
           {"calculate": "datum.st=='+' ? 363 : 366", "as": "c1"},
           {"calculate": "datum.st=='+' ? 366 : 369", "as": "c2"}
         ],
         "layer": [
           {"mark": {"type": "rect", "fill": "#ff0000"},
            "encoding": {"x": {"field": "x1", "type": "quantitative", "scale": {"domain": [1969594, 1990407], "nice": false, "zero": false}, "axis": null}, "x2": {"field": "x2"},
                         "y": {"field": "t1", "type": "quantitative", "scale": {"domain": [0, 445], "reverse": true, "nice": false, "zero": false}, "axis": null}, "y2": {"field": "t2"}}},
           {"mark": {"type": "rule", "color": "#ff0000", "strokeWidth": 1},
            "encoding": {"x": {"field": "cx", "type": "quantitative", "scale": {"domain": [1969594, 1990407], "nice": false, "zero": false}, "axis": null},
                         "y": {"field": "c1", "type": "quantitative", "scale": {"domain": [0, 445], "reverse": true, "nice": false, "zero": false}, "axis": null}, "y2": {"field": "c2"}}},
           {"transform": [{"filter": "datum.st=='+'"}],
            "mark": {"type": "text", "align": "right", "baseline": "middle", "dx": -1, "clip": true},
            "encoding": {"x": {"field": "x1", "type": "quantitative", "scale": {"domain": [1969594, 1990407], "nice": false, "zero": false}, "axis": null},
                         "y": {"datum": 357, "type": "quantitative", "scale": {"domain": [0, 445], "reverse": true, "nice": false, "zero": false}, "axis": null},
                         "text": {"field": "t"}}},
           {"transform": [{"filter": "datum.st=='-'"}],
            "mark": {"type": "text", "align": "left", "baseline": "middle", "dx": 0, "clip": true},
            "encoding": {"x": {"field": "x2", "type": "quantitative", "scale": {"domain": [1969594, 1990407], "nice": false, "zero": false}, "axis": null},
                         "y": {"datum": 374, "type": "quantitative", "scale": {"domain": [0, 445], "reverse": true, "nice": false, "zero": false}, "axis": null},
                         "text": {"field": "t"}}}
         ]}
      ]
    },
    {
      "width": 1024,
      "height": 78,
      "layer": [
        {"data": {"name": "et"},
         "transform": [{"fold": ["b", "c", "d", "e", "f", "g", "h", "i", "j", "k", "l", "m", "n", "o", "p", "a"], "as": ["sr", "v"]}],
         "mark": {"type": "line", "interpolate": "step-after", "strokeWidth": 1},
         "encoding": {"x": {"field": "x", "type": "quantitative", "scale": {"domain": [1969594, 1990407], "nice": false, "zero": false}, "axis": null},
                      "y": {"field": "v", "type": "quantitative", "scale": {"domain": [-4, 22], "nice": false, "zero": false}, "axis": null},
                      "color": {"field": "sr", "type": "nominal", "scale": {"domain": ["a", "b", "c", "d", "e", "f", "g", "h", "i", "j", "k", "l", "m", "n", "o", "p"], "range": ["#000000", "#e4572e", "#9c9a2e", "#8b5e5e", "#6fcf1f", "#a03aa8", "#20209a", "#5aaaf0", "#f0648c", "#d9792a", "#cc3333", "#669933", "#cc9933", "#aaaaee", "#cc3399", "#e07020"]}, "legend": null},
                      "detail": {"field": "sg", "type": "nominal"}}},
        {"data": {"name": "segs"}, "mark": {"type": "rule", "color": "black", "strokeWidth": 1},
         "encoding": {"x": {"field": "a", "type": "quantitative", "scale": {"domain": [1969594, 1990407], "nice": false, "zero": false}, "axis": null}, "x2": {"field": "b"},
                      "y": {"datum": 4, "type": "quantitative", "scale": {"domain": [-4, 22], "nice": false, "zero": false}, "axis": null}}},
        {"data": {"name": "segs"}, "mark": {"type": "rule", "color": "black", "strokeWidth": 1},
         "encoding": {"x": {"field": "a", "type": "quantitative", "scale": {"domain": [1969594, 1990407], "nice": false, "zero": false}, "axis": null}, "x2": {"field": "b"},
                      "y": {"datum": 9, "type": "quantitative", "scale": {"domain": [-4, 22], "nice": false, "zero": false}, "axis": null}}},
        {"data": {"name": "segs"}, "mark": {"type": "rule", "color": "black", "strokeWidth": 1},
         "encoding": {"x": {"field": "a", "type": "quantitative", "scale": {"domain": [1969594, 1990407], "nice": false, "zero": false}, "axis": null}, "x2": {"field": "b"},
                      "y": {"datum": 11, "type": "quantitative", "scale": {"domain": [-4, 22], "nice": false, "zero": false}, "axis": null}}}
      ]
    },
    {
      "width": 1024,
      "height": 75,
      "layer": [
        {"data": {"name": "eb"},
         "transform": [{"fold": ["b", "c", "d", "e", "f", "g", "h", "i", "j", "k", "l", "m", "n", "o", "p", "a"], "as": ["sr", "v"]}],
         "mark": {"type": "line", "interpolate": "step-after", "strokeWidth": 1},
         "encoding": {"x": {"field": "x", "type": "quantitative", "scale": {"domain": [1969594, 1990407], "nice": false, "zero": false}, "axis": null},
                      "y": {"field": "v", "type": "quantitative", "scale": {"domain": [-3, 22], "nice": false, "zero": false}, "axis": null},
                      "color": {"field": "sr", "type": "nominal", "scale": {"domain": ["a", "b", "c", "d", "e", "f", "g", "h", "i", "j", "k", "l", "m", "n", "o", "p"], "range": ["#000000", "#e4572e", "#9c9a2e", "#8b5e5e", "#6fcf1f", "#a03aa8", "#20209a", "#5aaaf0", "#f0648c", "#d9792a", "#cc3333", "#669933", "#cc9933", "#aaaaee", "#cc3399", "#e07020"]}, "legend": null},
                      "detail": {"field": "sg", "type": "nominal"}}},
        {"data": {"name": "segs"}, "mark": {"type": "rule", "color": "black", "strokeWidth": 1},
         "encoding": {"x": {"field": "a", "type": "quantitative", "scale": {"domain": [1969594, 1990407], "nice": false, "zero": false}, "axis": null}, "x2": {"field": "b"},
                      "y": {"datum": 4, "type": "quantitative", "scale": {"domain": [-3, 22], "nice": false, "zero": false}, "axis": null}}},
        {"data": {"name": "segs"}, "mark": {"type": "rule", "color": "black", "strokeWidth": 1},
         "encoding": {"x": {"field": "a", "type": "quantitative", "scale": {"domain": [1969594, 1990407], "nice": false, "zero": false}, "axis": null}, "x2": {"field": "b"},
                      "y": {"datum": 9, "type": "quantitative", "scale": {"domain": [-3, 22], "nice": false, "zero": false}, "axis": null}}},
        {"data": {"name": "segs"}, "mark": {"type": "rule", "color": "black", "strokeWidth": 1},
         "encoding": {"x": {"field": "a", "type": "quantitative", "scale": {"domain": [1969594, 1990407], "nice": false, "zero": false}, "axis": null}, "x2": {"field": "b"},
                      "y": {"datum": 11, "type": "quantitative", "scale": {"domain": [-3, 22], "nice": false, "zero": false}, "axis": null}}}
      ]
    }
  ]
}
